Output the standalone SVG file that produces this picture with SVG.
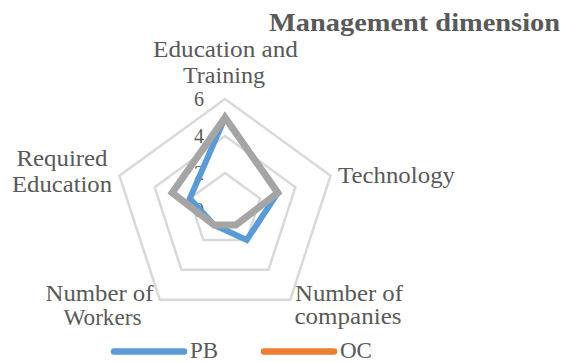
<svg xmlns="http://www.w3.org/2000/svg" width="561" height="362" viewBox="0 0 561 362">
<style>
text{fill:#595959}
.lbl{font-size:23px;text-anchor:middle}
.tick{font-size:20px;text-anchor:end}
.grid{fill:none;stroke:#d9d9d9;stroke-width:2.5}
.ser{fill:none;stroke-linejoin:miter;stroke-linecap:round}
</style>
<rect width="561" height="362" fill="#ffffff"/>
<g font-family="Liberation Serif, DejaVu Serif, serif">
<text x="560" y="31" font-size="26" font-weight="bold" text-anchor="end" textLength="291" lengthAdjust="spacingAndGlyphs">Management dimension</text>
<g id="grid">
<polygon class="grid" points="225,173 260.19,198.57 246.75,239.93 203.25,239.93 189.81,198.57"/>
<polygon class="grid" points="225,136 295.38,187.13 268.5,269.87 181.5,269.87 154.62,187.13"/>
<polygon class="grid" points="225,99 330.57,175.7 290.25,299.8 159.75,299.8 119.43,175.7"/>
</g>
<g id="ticks">
<text class="tick" x="204" y="105.5">6</text>
<text class="tick" x="204" y="142.5">4</text>
<text class="tick" x="204" y="180">2</text>
<text class="tick" x="204" y="217">0</text>
</g>
<g id="labels">
<g id="n-education-training"><text class="lbl" x="225.5" y="57" textLength="145" lengthAdjust="spacingAndGlyphs">Education and</text><text class="lbl" x="224" y="83" textLength="82" lengthAdjust="spacingAndGlyphs">Training</text></g>
<g id="n-technology"><text class="lbl" x="396.5" y="183" textLength="117" lengthAdjust="spacingAndGlyphs">Technology</text></g>
<g id="n-companies"><text class="lbl" x="349" y="301" textLength="108" lengthAdjust="spacingAndGlyphs">Number of</text><text class="lbl" x="348" y="324" textLength="107" lengthAdjust="spacingAndGlyphs">companies</text></g>
<g id="n-workers"><text class="lbl" x="99.5" y="301" textLength="108" lengthAdjust="spacingAndGlyphs">Number of</text><text class="lbl" x="102.5" y="325" textLength="78" lengthAdjust="spacingAndGlyphs">Workers</text></g>
<g id="n-required-education"><text class="lbl" x="62" y="166" textLength="91" lengthAdjust="spacingAndGlyphs">Required</text><text class="lbl" x="62" y="192" textLength="100" lengthAdjust="spacingAndGlyphs">Education</text></g>
</g>
<g id="connectors">
<polygon id="s-pb" class="ser" stroke="#5b9bd5" stroke-width="6" points="225,117.5 277.79,192.85 246.75,239.93 214.13,224.97 189.81,198.57"/>
<polygon id="s-gray" class="ser" stroke="#a5a5a5" stroke-width="7" points="225,117.5 277.79,192.85 235.87,224.97 214.13,224.97 172.21,192.85"/>
</g>
<g id="legend">
<line x1="114" y1="351.5" x2="184" y2="351.5" stroke="#5b9bd5" stroke-width="6.5" stroke-linecap="round"/>
<text x="190" y="358" font-size="23">PB</text>
<line x1="264" y1="351.5" x2="334" y2="351.5" stroke="#ed7d31" stroke-width="6.5" stroke-linecap="round"/>
<text x="340" y="358" font-size="23">OC</text>
</g>
</g>
</svg>
